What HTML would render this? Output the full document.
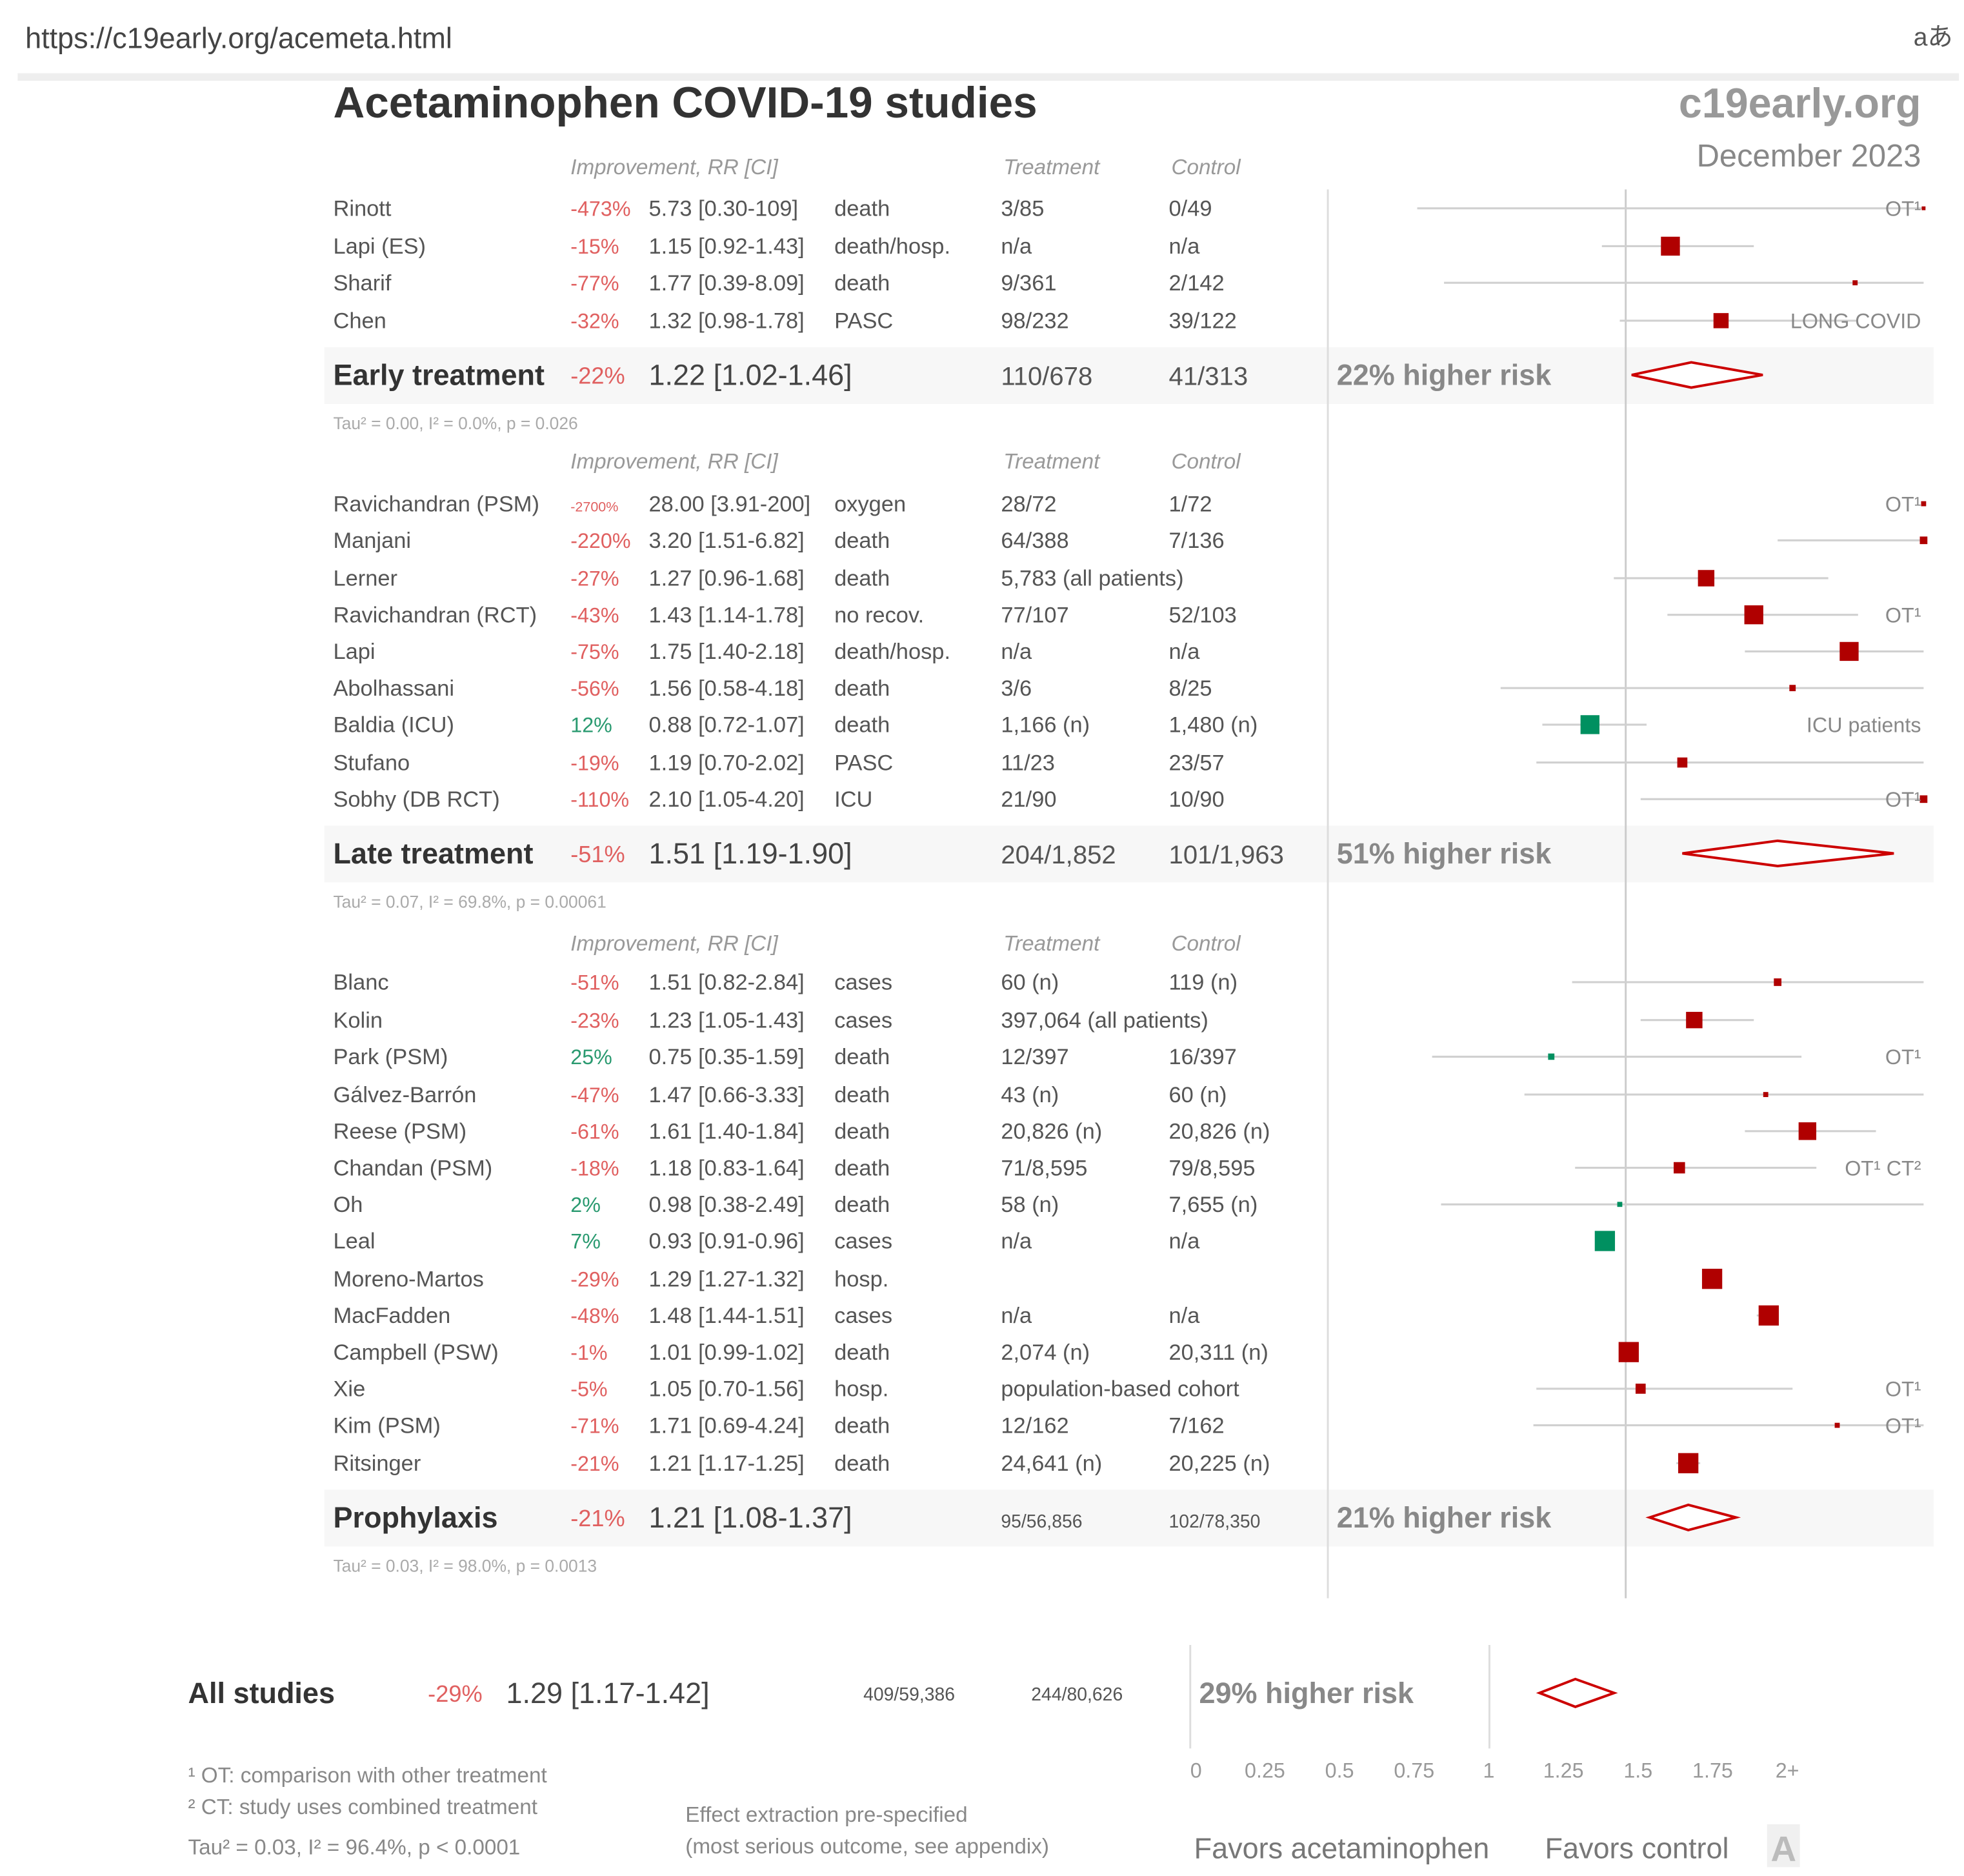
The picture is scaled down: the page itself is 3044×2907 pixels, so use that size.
<!DOCTYPE html>
<html><head><meta charset="utf-8"><style>
html,body{margin:0;padding:0;background:#fff;}
svg{display:block;}
text{font-family:"Liberation Sans","Noto Sans CJK JP",sans-serif;}
</style></head><body>
<svg id="c" width="3044" height="2907" viewBox="0 0 1556 1486" preserveAspectRatio="none" xmlns="http://www.w3.org/2000/svg">
<rect x="0" y="0" width="1556" height="1486" fill="#fff"/>
<text x="20" y="38" font-size="23" fill="#444">https://c19early.org/acemeta.html</text>
<text x="1516" y="36" font-size="20" fill="#555">aあ</text>
<rect x="14" y="58" width="1538" height="6" fill="#eee"/>
<text x="264" y="93" font-size="34.5" font-weight="bold" fill="#333">Acetaminophen COVID-19 studies</text>
<text x="1522" y="93" font-size="33" font-weight="bold" fill="#999" text-anchor="end">c19early.org</text>
<text x="1522" y="132" font-size="25" fill="#888" text-anchor="end">December 2023</text>
<g id="g"></g>
</svg>
<script>
const names=["Rinott","Lapi (ES)","Sharif","Chen","Ravichandran (PSM)","Manjani","Lerner","Ravichandran (RCT)","Lapi","Abolhassani","Baldia (ICU)","Stufano","Sobhy (DB RCT)","Blanc","Kolin","Park (PSM)","Gálvez-Barrón","Reese (PSM)","Chandan (PSM)","Oh","Leal","Moreno-Martos","MacFadden","Campbell (PSW)","Xie","Kim (PSM)","Ritsinger"];
const groups=[0,0,0,0,1,1,1,1,1,1,1,1,1,2,2,2,2,2,2,2,2,2,2,2,2,2,2];
const rr=[5.73,1.15,1.77,1.32,28.00,3.20,1.27,1.43,1.75,1.56,0.88,1.19,2.10,1.51,1.23,0.75,1.47,1.61,1.18,0.98,0.93,1.29,1.48,1.01,1.05,1.71,1.21];
const lo=[0.30,0.92,0.39,0.98,3.91,1.51,0.96,1.14,1.40,0.58,0.72,0.70,1.05,0.82,1.05,0.35,0.66,1.40,0.83,0.38,0.91,1.27,1.44,0.99,0.70,0.69,1.17];
const hi=[109,1.43,8.09,1.78,200,6.82,1.68,1.78,2.18,4.18,1.07,2.02,4.20,2.84,1.43,1.59,3.33,1.84,1.64,2.49,0.96,1.32,1.51,1.02,1.56,4.24,1.25];
const rrText=["5.73 [0.30-109]","1.15 [0.92-1.43]","1.77 [0.39-8.09]","1.32 [0.98-1.78]","28.00 [3.91-200]","3.20 [1.51-6.82]","1.27 [0.96-1.68]","1.43 [1.14-1.78]","1.75 [1.40-2.18]","1.56 [0.58-4.18]","0.88 [0.72-1.07]","1.19 [0.70-2.02]","2.10 [1.05-4.20]","1.51 [0.82-2.84]","1.23 [1.05-1.43]","0.75 [0.35-1.59]","1.47 [0.66-3.33]","1.61 [1.40-1.84]","1.18 [0.83-1.64]","0.98 [0.38-2.49]","0.93 [0.91-0.96]","1.29 [1.27-1.32]","1.48 [1.44-1.51]","1.01 [0.99-1.02]","1.05 [0.70-1.56]","1.71 [0.69-4.24]","1.21 [1.17-1.25]"];
const impText=["-473%","-15%","-77%","-32%","-2700%","-220%","-27%","-43%","-75%","-56%","12%","-19%","-110%","-51%","-23%","25%","-47%","-61%","-18%","2%","7%","-29%","-48%","-1%","-5%","-71%","-21%"];
const outcomes=["death","death/hosp.","death","PASC","oxygen","death","death","no recov.","death/hosp.","death","death","PASC","ICU","cases","cases","death","death","death","death","death","cases","hosp.","cases","death","hosp.","death","death"];
const treat=["3/85","n/a","9/361","98/232","28/72","64/388","5,783 (all patients)","77/107","n/a","3/6","1,166 (n)","11/23","21/90","60 (n)","397,064 (all patients)","12/397","43 (n)","20,826 (n)","71/8,595","58 (n)","n/a","","n/a","2,074 (n)","population-based cohort","12/162","24,641 (n)"];
const ctrl=["0/49","n/a","2/142","39/122","1/72","7/136","","52/103","n/a","8/25","1,480 (n)","23/57","10/90","119 (n)","","16/397","60 (n)","20,826 (n)","79/8,595","7,655 (n)","n/a","","n/a","20,311 (n)","","7/162","20,225 (n)"];
const boxSize=[3,15,4,12,4,6,13,15,15,5,15,8,6,6,13,5,4,14,9,4,16,16,16,16,8,4,16];
const notes=["OT¹","","","LONG COVID","OT¹","","","OT¹","","","ICU patients","","OT¹","","","OT¹","","","OT¹ CT²","","","","","","OT¹","OT¹",""];
const rowY=[165,195,224,254,399,428,458,487,516,545,574,604,633,778,808,837,867,896,925,954,983,1013,1042,1071,1100,1129,1159];
const sumLabels=["Early treatment","Late treatment","Prophylaxis"];
const sumRR=[1.22,1.51,1.21],sumLo=[1.02,1.19,1.08],sumHi=[1.46,1.90,1.37];
const sumImp=["-22%","-51%","-21%"],sumText=["1.22 [1.02-1.46]","1.51 [1.19-1.90]","1.21 [1.08-1.37]"];
const sumT=["110/678","204/1,852","95/56,856"],sumC=["41/313","101/1,963","102/78,350"];
const sumRisk=["22% higher risk","51% higher risk","21% higher risk"];
const sumTau=["Tau² = 0.00, I² = 0.0%, p = 0.026","Tau² = 0.07, I² = 69.8%, p = 0.00061","Tau² = 0.03, I² = 98.0%, p = 0.0013"];
const sumY=[297,676,1202],headY=[133,366,748];
const allRR=1.29,allLo=1.17,allHi=1.42;
const ticks=["0","0.25","0.5","0.75","1","1.25","1.5","1.75","2+"];

const NS="http://www.w3.org/2000/svg",G=document.getElementById('g');
function X(v){return 1052+Math.min(Math.max(v,0),2)*236;}
function X2(v){return 943+Math.min(Math.max(v,0),2)*236.5;}
function el(t,a,txt){const e=document.createElementNS(NS,t);for(const k in a)e.setAttribute(k,a[k]);if(txt!==undefined)e.textContent=txt;G.appendChild(e);return e;}
function T(x,y,s,c,txt,ex){return el('text',Object.assign({x:x,y:y,'font-size':s,fill:c},ex||{}),txt);}
function diamond(x0,xc,x1,y,h){return el('polygon',{points:`${x0},${y} ${xc},${y-h} ${x1},${y} ${xc},${y+h}`,fill:'#fff',stroke:'#c00',"stroke-width":2});}

for(let i=0;i<3;i++){
  const b=el('rect',{x:257,y:sumY[i]-22,width:1275,height:45,fill:'#f7f7f7'});
  
  
}
let v=el('line',{x1:1052,y1:150,x2:1052,y2:1266,stroke:'#ddd','stroke-width':1.5});


v=el('line',{x1:X(1),y1:150,x2:X(1),y2:1266,stroke:'#ccc','stroke-width':1.5});



for(let i=0;i<3;i++){
  const y=headY[i]+5,st={'font-style':'italic'};
  let h=T(452,y,17,'#999','Improvement, RR [CI]',st);
  
  
  h=T(795,y,17,'#999','Treatment',st);
  
  
  h=T(928,y,17,'#999','Control',st);
  
  
}
for(let i=0;i<names.length;i++){
  const y=rowY[i],ty=y+6,good=rr[i]<1,col=good?'#009060':'#b00000';
  const g=el('g',{});
  
  
  T(264,ty,17.6,'#555',names[i]);
  T(452,ty,impText[i].length>5?11:16.5,good?'#2a9a70':'#e06060',impText[i]);
  T(514,ty,17.6,'#555',rrText[i]);
  T(661,ty,17.6,'#555',outcomes[i]);
  T(793,ty,17.6,'#555',treat[i]);
  T(926,ty,17.6,'#555',ctrl[i]);
  const ci=el('line',{x1:X(lo[i]),y1:y,x2:X(hi[i]),y2:y,stroke:'#d0d0d0','stroke-width':1.6});
  
  
  const s=boxSize[i];
  const bx=el('rect',{x:X(rr[i])-s/2,y:y-s/2,width:s,height:s,fill:col});
  
  
  if(notes[i]){
    const n=T(1522,ty,16.5,'#888',notes[i],{'text-anchor':'end'});
    
    
  }
}
for(let i=0;i<3;i++){
  const y=sumY[i],ty=y+8;
  let t=T(264,ty,23,'#333',sumLabels[i],{'font-weight':'bold'});
  
  
  T(452,ty-1,18.5,'#e06060',sumImp[i]);
  T(514,ty,23,'#444',sumText[i]);
  T(793,ty,i==2?14.5:20.5,'#555',sumT[i]);
  T(926,ty,i==2?14.5:20.5,'#555',sumC[i]);
  t=T(1059,ty,23,'#888',sumRisk[i],{'font-weight':'bold'});
  
  
  const d=diamond(X(sumLo[i]),X(sumRR[i]),X(sumHi[i]),y,10);
  
  
  t=T(264,y+43,13.5,'#aaa',sumTau[i]);
  
  
}
let a=T(149,1349,23,'#333','All studies',{'font-weight':'bold'});


T(339,1348,18.5,'#e06060','-29%');
T(401,1349,23,'#444','1.29 [1.17-1.42]');
T(684,1347,14.5,'#555','409/59,386');
T(817,1347,14.5,'#555','244/80,626');
for(const xv of [943,1180]){
  const l=el('line',{x1:xv,y1:1303,x2:xv,y2:1385,stroke:'#ddd','stroke-width':1.5});
  
  
}
a=T(950,1349,23,'#888','29% higher risk',{'font-weight':'bold'});


a=diamond(X2(allLo),X2(allRR),X2(allHi),1341,11);


for(let i=0;i<ticks.length;i++){
  const t=T(X2(i*0.25),1408,16.5,'#999',ticks[i],{'text-anchor':i==0?'start':'middle'});
  
  
}
const foot=[["¹ OT: comparison with other treatment",1412],["² CT: study uses combined treatment",1437],["Tau² = 0.03, I² = 96.4%, p < 0.0001",1469]];
for(const f of foot){
  const t=T(149,f[1],17,'#888',f[0]);
  
  
}
a=T(543,1443,17,'#888','Effect extraction pre-specified');


T(543,1468,17,'#888','(most serious outcome, see appendix)');
a=T(946,1472,23,'#777','Favors acetaminophen');


a=T(1224,1472,23,'#777','Favors control');


a=el('rect',{x:1400,y:1445,width:26,height:34,fill:'#f0f0f0'});


T(1413,1474,28,'#bbb','A',{'text-anchor':'middle','font-weight':'bold'});
</script>
</body></html>
